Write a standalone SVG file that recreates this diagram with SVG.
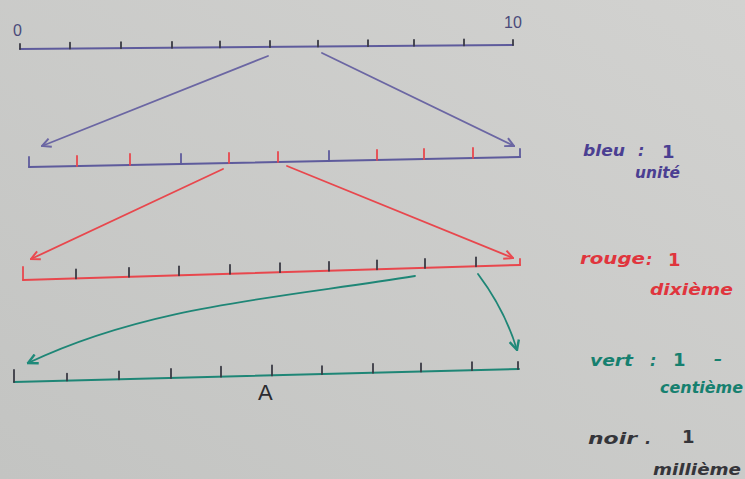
<svg xmlns="http://www.w3.org/2000/svg" width="745" height="479" viewBox="0 0 745 479">
<defs>
<linearGradient id="paper" x1="1" y1="0" x2="0" y2="1">
<stop offset="0" stop-color="#d2d2d0"/>
<stop offset="1" stop-color="#c3c4c2"/>
</linearGradient>
<marker id="ahBlue" viewBox="0 0 10 10" refX="9" refY="5" markerWidth="11" markerHeight="11" markerUnits="userSpaceOnUse" orient="auto"><path d="M1,1 L9,5 L1,9" fill="none" stroke="#6b66a3" stroke-width="1.8"/></marker>
<marker id="ahRed" viewBox="0 0 10 10" refX="9" refY="5" markerWidth="11" markerHeight="11" markerUnits="userSpaceOnUse" orient="auto"><path d="M1,1 L9,5 L1,9" fill="none" stroke="#ea4a50" stroke-width="1.8"/></marker>
<marker id="ahTeal" viewBox="0 0 10 10" refX="9" refY="5" markerWidth="12" markerHeight="12" markerUnits="userSpaceOnUse" orient="auto"><path d="M1,1 L9,5 L1,9" fill="none" stroke="#1f8a7a" stroke-width="2"/></marker>
<style>
.ax{fill:none;stroke-width:2;stroke-linecap:round}
.tk{stroke-width:1.8;stroke-linecap:round}
.blue{stroke:#5e5b9c}
.red{stroke:#e8474d}
.teal{stroke:#1e8676}
.dark{stroke:#3a3a44}
.conn{fill:none;stroke-width:1.8;stroke-linecap:round}
.lab{font-family:"Liberation Sans",Arial,sans-serif;font-size:16px}
.hw{font-family:"DejaVu Sans","Liberation Sans",sans-serif;font-size:16px;font-style:italic;font-weight:bold}
.num{font-family:"DejaVu Sans","Liberation Sans",sans-serif;font-size:18px;font-weight:bold}
</style>
</defs>
<rect width="745" height="479" fill="url(#paper)"/>

<g id="line-unite">
<line class="ax blue" x1="20" y1="49" x2="513" y2="45"/>
<g class="tk dark">
<line x1="20" y1="49" x2="20" y2="44"/>
<line x1="70" y1="48.6" x2="70" y2="42.6"/>
<line x1="121" y1="48.2" x2="121" y2="42.2"/>
<line x1="172" y1="47.8" x2="172" y2="41.8"/>
<line x1="220" y1="47.4" x2="220" y2="41.4"/>
<line x1="270" y1="47" x2="270" y2="41"/>
<line x1="318" y1="46.6" x2="318" y2="40.6"/>
<line x1="368" y1="46.2" x2="368" y2="40.2"/>
<line x1="414" y1="45.8" x2="414" y2="39.8"/>
<line x1="464" y1="45.4" x2="464" y2="39.4"/>
<line x1="513" y1="45" x2="513" y2="40"/>
</g>
<text class="lab" x="13" y="36" fill="#4a4a7a">0</text>
<text class="lab" x="504" y="28" fill="#4a4a7a">10</text>
</g>

<g id="line-dixieme">
<line class="ax blue" x1="29" y1="167" x2="520" y2="157"/>
<g class="tk">
<line class="blue" x1="29" y1="167" x2="29" y2="157"/>
<line class="red" x1="77" y1="166" x2="77" y2="156"/>
<line class="red" x1="130" y1="164.9" x2="130" y2="153.9"/>
<line class="blue" x1="181" y1="163.9" x2="181" y2="153.9"/>
<line class="red" x1="229" y1="162.9" x2="229" y2="152.9"/>
<line class="red" x1="278" y1="161.9" x2="278" y2="151.9"/>
<line class="blue" x1="329" y1="160.9" x2="329" y2="150.9"/>
<line class="red" x1="377" y1="159.9" x2="377" y2="149.9"/>
<line class="red" x1="424" y1="159" x2="424" y2="149"/>
<line class="red" x1="473" y1="158" x2="473" y2="148"/>
<line class="blue" x1="520" y1="157" x2="520" y2="149"/>
</g>
</g>

<g id="line-centieme">
<line class="ax red" x1="23" y1="280" x2="520" y2="265"/>
<g class="tk">
<line class="red" x1="23" y1="280" x2="23" y2="267"/>
<line class="dark" x1="76" y1="278.4" x2="76" y2="269.4"/>
<line class="dark" x1="129" y1="276.8" x2="129" y2="267.8"/>
<line class="dark" x1="179" y1="275.3" x2="179" y2="266.3"/>
<line class="dark" x1="230" y1="273.8" x2="230" y2="264.8"/>
<line class="dark" x1="280" y1="272.2" x2="280" y2="263.2"/>
<line class="dark" x1="329" y1="270.8" x2="329" y2="261.8"/>
<line class="dark" x1="377" y1="269.3" x2="377" y2="260.3"/>
<line class="dark" x1="425" y1="267.9" x2="425" y2="258.9"/>
<line class="dark" x1="476" y1="266.3" x2="476" y2="257.3"/>
<line class="red" x1="520" y1="265" x2="520" y2="259"/>
</g>
</g>

<g id="line-millieme">
<line class="ax teal" x1="14" y1="382" x2="519" y2="369"/>
<g class="tk">
<line class="dark" x1="14" y1="382" x2="14" y2="370"/>
<line class="dark" x1="67" y1="380.6" x2="67" y2="373.6"/>
<line class="dark" x1="119" y1="379.3" x2="119" y2="371.3"/>
<line class="dark" x1="171" y1="378" x2="171" y2="369"/>
<line class="dark" x1="221" y1="376.7" x2="221" y2="366.7"/>
<line class="dark" x1="272" y1="375.4" x2="272" y2="365.4"/>
<line class="dark" x1="322" y1="374.1" x2="322" y2="366.1"/>
<line class="dark" x1="373" y1="372.8" x2="373" y2="363.8"/>
<line class="dark" x1="421" y1="371.5" x2="421" y2="363.5"/>
<line class="dark" x1="472" y1="370.2" x2="472" y2="362.2"/>
<line class="dark" x1="518" y1="369" x2="518" y2="362"/>
</g>
<text x="258" y="400" font-family="Liberation Sans,Arial,sans-serif" font-size="22" fill="#2b2b30">A</text>
</g>

<g id="connectors">
<line class="conn" x1="268" y1="56" x2="42" y2="146" marker-end="url(#ahBlue)" stroke="#6b66a3"/>
<line class="conn" x1="322" y1="53" x2="514" y2="146" marker-end="url(#ahBlue)" stroke="#6b66a3"/>
<line class="conn red" x1="223" y1="169" x2="31" y2="259" marker-end="url(#ahRed)"/>
<line class="conn red" x1="287" y1="166" x2="513" y2="258" marker-end="url(#ahRed)"/>
<path class="conn teal" d="M415,276 C280,298 150,305 28,363" marker-end="url(#ahTeal)"/>
<path class="conn teal" d="M478,274 Q505,310 517,350" marker-end="url(#ahTeal)" stroke-width="2.2"/>
</g>

<g id="legend-bleu" fill="#4b3f92">
<text class="hw" x="583" y="156" textLength="42" lengthAdjust="spacingAndGlyphs">bleu</text>
<text class="hw" x="638" y="156">:</text>
<text class="num" x="662" y="158">1</text>
<text class="hw" x="635" y="178" textLength="45" lengthAdjust="spacingAndGlyphs">unité</text>
</g>
<g id="legend-rouge" fill="#e0353d">
<text class="hw" x="580" y="264" textLength="65" lengthAdjust="spacingAndGlyphs">rouge</text>
<text class="hw" x="646" y="265">:</text>
<text class="num" x="668" y="266">1</text>
<text class="hw" x="650" y="295" textLength="83" lengthAdjust="spacingAndGlyphs">dixième</text>
</g>
<g id="legend-vert" fill="#16806f">
<text class="hw" x="590" y="366" textLength="43" lengthAdjust="spacingAndGlyphs">vert</text>
<text class="hw" x="650" y="366">:</text>
<text class="num" x="673" y="366">1</text>
<text class="hw" x="714" y="364">–</text>
<text class="hw" x="660" y="393" textLength="83" lengthAdjust="spacingAndGlyphs">centième</text>
</g>
<g id="legend-noir" fill="#35353a">
<text class="hw" x="588" y="444" textLength="49" lengthAdjust="spacingAndGlyphs">noir</text>
<text class="hw" x="645" y="444">.</text>
<text class="num" x="682" y="443">1</text>
<text class="hw" x="653" y="475" textLength="88" lengthAdjust="spacingAndGlyphs">millième</text>
</g>
</svg>
